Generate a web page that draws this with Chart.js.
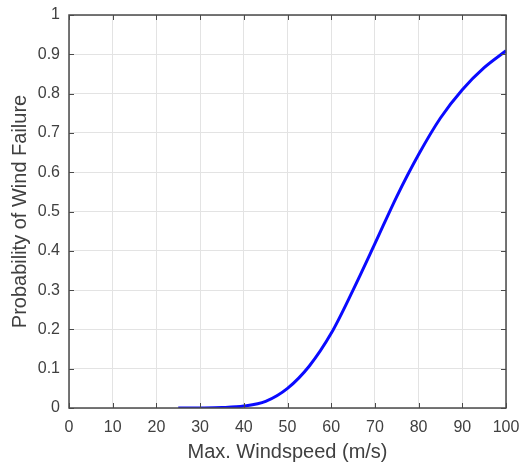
<!DOCTYPE html>
<html>
<head>
<meta charset="utf-8">
<script src="https://cdn.jsdelivr.net/npm/chart.js@4/dist/chart.umd.min.js"></script>
<style>
    html, body { margin: 0; padding: 0; background: #ffffff; }
    #wrap { width: 524px; height: 470px; position: relative; }
</style>
</head>
<body>
<div id="wrap"><canvas id="chart"></canvas></div>
<script>
// wind speed (m/s) and probability
const windSpeeds = [25, 30, 35, 40, 45, 50, 55, 60, 65, 70, 75, 80, 85, 90, 95, 100];
const failureProb = [0, 0.0002, 0.0012, 0.005, 0.017, 0.05, 0.107, 0.19, 0.30, 0.418, 0.538, 0.645, 0.738, 0.81, 0.866, 0.909];

const xTicks = [0, 10, 20, 30, 40, 50, 60, 70, 80, 90, 100];
const yTicks = [0, 0.1, 0.2, 0.3, 0.4, 0.5, 0.6, 0.7, 0.8, 0.9, 1];

const textColor = '#404040';
const axisColor = '#4a4a4a';
const gridColor = '#e3e3e3';

// box around the plot with inward tick marks, matlab style
const boxPlugin = {
    id: 'boxAxes',
    afterDraw(chart) {
        const { ctx, chartArea: a, scales } = chart;
        const len = 5;
        ctx.save();
        ctx.strokeStyle = axisColor;
        ctx.lineWidth = 1;
        ctx.beginPath();
        xTicks.forEach(v => {
            const px = Math.round(scales.x.getPixelForValue(v)) + 0.5;
            ctx.moveTo(px, a.bottom); ctx.lineTo(px, a.bottom - len);
            ctx.moveTo(px, a.top); ctx.lineTo(px, a.top + len);
        });
        yTicks.forEach(v => {
            const py = Math.round(scales.y.getPixelForValue(v)) + 0.5;
            ctx.moveTo(a.left, py); ctx.lineTo(a.left + len, py);
            ctx.moveTo(a.right, py); ctx.lineTo(a.right - len, py);
        });
        ctx.stroke();
        ctx.lineWidth = 1.5;
        ctx.strokeRect(a.left, a.top, a.right - a.left, a.bottom - a.top);
        ctx.restore();
    }
};

const ctx = document.getElementById('chart');
new Chart(ctx, {
    type: 'line',
    data: {
        datasets: [{
            data: windSpeeds.map((x, i) => ({ x: x, y: failureProb[i] })),
            borderColor: '#0a0aff',
            borderWidth: 3,
            pointRadius: 0,
            fill: false,
            cubicInterpolationMode: 'monotone'
        }]
    },
    options: {
        responsive: true,
        maintainAspectRatio: false,
        animation: false,
        layout: { padding: { left: 0, top: 15, right: 18, bottom: 0 } },
        plugins: {
            legend: { display: false },
            tooltip: { enabled: false }
        },
        scales: {
            x: {
                type: 'linear',
                min: 0,
                max: 100,
                afterFit: (scale) => {
                    scale.height = 62;
                    scale.paddingLeft = 0;
                    scale.paddingRight = 0;
                },
                afterBuildTicks: (scale) => { scale.ticks = xTicks.map(v => ({ value: v })); },
                grid: { color: gridColor, drawTicks: false },
                border: { display: false },
                ticks: {
                    color: textColor,
                    padding: 10,
                    maxRotation: 0,
                    font: { family: 'Liberation Sans, Arial', size: 16 }
                },
                title: {
                    display: true,
                    text: 'Max. Windspeed (m/s)',
                    color: textColor,
                    padding: { top: 0, bottom: 6 },
                    font: { family: 'Liberation Sans, Arial', size: 20 }
                }
            },
            y: {
                type: 'linear',
                min: 0,
                max: 1,
                afterFit: (scale) => {
                    scale.width = 69;
                    scale.paddingTop = 0;
                    scale.paddingBottom = 0;
                },
                afterBuildTicks: (scale) => { scale.ticks = yTicks.map(v => ({ value: v })); },
                grid: { color: gridColor, drawTicks: false },
                border: { display: false },
                ticks: {
                    color: textColor,
                    padding: 9,
                    font: { family: 'Liberation Sans, Arial', size: 16 },
                    callback: (v) => String(Math.round(v * 10) / 10)
                },
                title: {
                    display: true,
                    text: 'Probability of Wind Failure',
                    color: textColor,
                    padding: { top: 8, bottom: 0 },
                    font: { family: 'Liberation Sans, Arial', size: 20 }
                }
            }
        }
    },
    plugins: [boxPlugin]
});
</script>
</body>
</html>
